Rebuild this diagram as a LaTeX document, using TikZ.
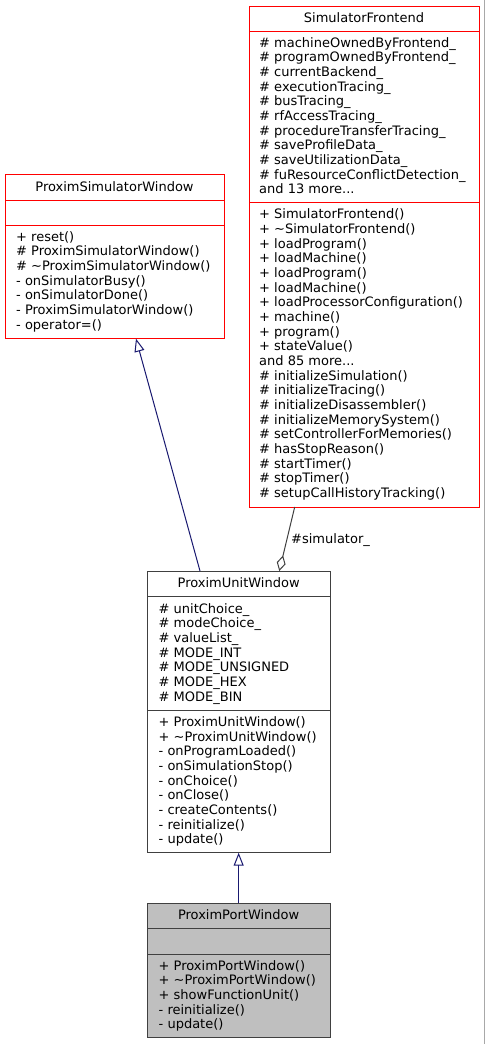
\documentclass[tikz,border=0pt]{standalone}
\usepackage{fontspec}
\setmainfont{DejaVu Sans}
\usetikzlibrary{arrows.meta}
\definecolor{edgeblue}{HTML}{191970}
\definecolor{edgegray}{HTML}{404040}
\definecolor{boxgray}{HTML}{BFBFBF}
\definecolor{boxline}{HTML}{404040}
\definecolor{rimgray}{HTML}{A8A8A8}
\tikzset{
 txt/.style={inner sep=0pt, font=\fontsize{13}{14.67}\selectfont, text=black, anchor=base west},
 ttl/.style={txt, anchor=base},
 redbox/.style={draw=red, line width=1pt, fill=white, inner sep=0pt, outer sep=0pt},
 blackbox/.style={draw=boxline, line width=1pt, fill=white, inner sep=0pt, outer sep=0pt},
 graybox/.style={draw=boxline, line width=1pt, fill=boxgray, inner sep=0pt, outer sep=0pt},
 inherit/.style={draw=edgeblue, line width=1pt, -{Triangle[open, length=13pt, width=10pt]}},
 aggr/.style={draw=edgegray, line width=1pt, {Diamond[open, length=16pt, width=9pt]}-},
}
\newcommand{\umlbox}[6]{\node[#6, minimum width={(#4-#2)*1pt}, minimum height={(#5-#3)*1pt}] (#1) at ({(#2+#4)/2},{(#3+#5)/2}) {};}
\newcommand{\umlsep}[3]{\draw[#3, line width=1pt] (#1.west |- 0,#2) -- (#1.east |- 0,#2);}
\newcommand{\umllines}[4]{\foreach \myline [count=\i from 0] in {#4} {\node[txt] (#1-\i) at (#2,{#3+\i*14.67}) {\myline};}}
\begin{document}
\begin{tikzpicture}[x=1pt,y=-1pt]
\useasboundingbox (0,0) rectangle (485,1044);
\fill[white] (0,0) rectangle (485,1044);
\draw[rimgray, line width=1pt] (484,0) -- (484,1044);

% SimulatorFrontend
\umlbox{sf}{249}{6}{479}{507}{redbox}
\umlsep{sf}{31.5}{red}
\umlsep{sf}{202.7}{red}
\node[ttl] (sf-title) at (sf.north |- 0,22) {SimulatorFrontend};
\umllines{sfa}{259}{47}{\# machineOwnedByFrontend\_,\# programOwnedByFrontend\_,\# currentBackend\_,\# executionTracing\_,\# busTracing\_,\# rfAccessTracing\_,\# procedureTransferTracing\_,\# saveProfileData\_,\# saveUtilizationData\_,\# fuResourceConflictDetection\_,and 13 more.{}.{}.}
\umllines{sfm}{259}{218.7}{+ SimulatorFrontend(),+ \textasciitilde SimulatorFrontend(),+ loadProgram(),+ loadMachine(),+ loadProgram(),+ loadMachine(),+ loadProcessorConfiguration(),+ machine(),+ program(),+ stateValue(),and 85 more.{}.{}.,\# initializeSimulation(),\# initializeTracing(),\# initializeDisassembler(),\# initializeMemorySystem(),\# setControllerForMemories(),\# hasStopReason(),\# startTimer(),\# stopTimer(),\# setupCallHistoryTracking()}

% ProximSimulatorWindow
\umlbox{psw}{5}{174.3}{224}{338.7}{redbox}
\umlsep{psw}{200}{red}
\umlsep{psw}{225.3}{red}
\node[ttl] (psw-title) at (psw.north |- 0,191) {ProximSimulatorWindow};
\umllines{pswm}{16}{241}{+ reset(),\# ProximSimulatorWindow(),\# \textasciitilde ProximSimulatorWindow(),- onSimulatorBusy(),- onSimulatorDone(),- ProximSimulatorWindow(),- operator=()}

% ProximUnitWindow
\umlbox{puw}{147.3}{571}{330}{852.7}{blackbox}
\umlsep{puw}{596.7}{boxline}
\umlsep{puw}{710}{boxline}
\node[ttl] (puw-title) at (puw.north |- 0,587) {ProximUnitWindow};
\umllines{puwa}{158.5}{613}{\# unitChoice\_,\# modeChoice\_,\# valueList\_,\# MODE\_INT,\# MODE\_UNSIGNED,\# MODE\_HEX,\# MODE\_BIN}
\umllines{puwm}{158.5}{726.4}{+ ProximUnitWindow(),+ \textasciitilde ProximUnitWindow(),- onProgramLoaded(),- onSimulationStop(),- onChoice(),- onClose(),- createContents(),- reinitialize(),- update()}

% ProximPortWindow
\umlbox{ppw}{147.3}{903.3}{330}{1037.7}{graybox}
\umlsep{ppw}{928.7}{boxline}
\umlsep{ppw}{954}{boxline}
\node[ttl] (ppw-title) at (ppw.north |- 0,919) {ProximPortWindow};
\umllines{ppwm}{158.5}{970}{+ ProximPortWindow(),+ \textasciitilde ProximPortWindow(),+ showFunctionUnit(),- reinitialize(),- update()}

% connectors
\draw[inherit] ([xshift=-38.65pt]puw.north) -- ([xshift=21.5pt]psw.south);
\draw[aggr] ([xshift=40.65pt]puw.north) -- ([xshift=-69.3pt]sf.south);
\node[txt] (simlbl) at (291,543.4) {\#simulator\_};
\draw[inherit] (ppw.north) -- (puw.south);
\end{tikzpicture}
\end{document}
